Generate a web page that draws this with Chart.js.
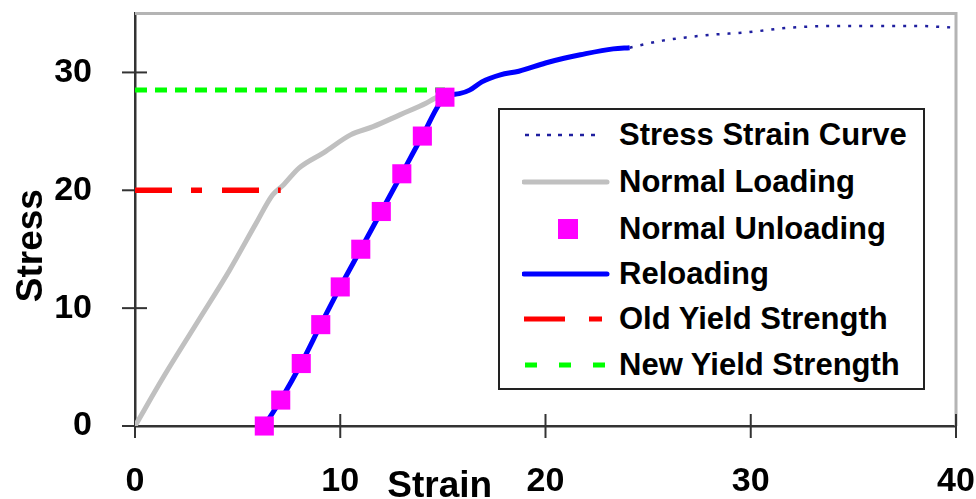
<!DOCTYPE html>
<html>
<head>
<meta charset="utf-8">
<script src="https://cdn.jsdelivr.net/npm/chart.js@4.4.0/dist/chart.umd.min.js"></script>
<style>
  html, body { margin: 0; padding: 0; background: #fff; }
  #wrap { position: relative; width: 976px; height: 499px; }
  #legend {
    position: absolute; left: 498px; top: 108px; width: 423px; height: 278px;
    border: 2px solid #222; background: #fff;
    font: bold 31px "Liberation Sans", Arial, sans-serif; color: #000;
  }
  .row { position: absolute; left: 0; height: 46px; line-height: 46px; width: 100%; }
  .row svg { position: absolute; left: 22px; top: 11px; }
  .row span { position: absolute; left: 119px; top: 0; white-space: nowrap; }
</style>
</head>
<body>
<div id="wrap">
  <canvas id="chart" width="976" height="499"></canvas>
  <div id="legend"></div>
</div>
<script>
// Stress strain data
const curveX = [24.1, 24.6, 25.7, 27.0, 28.1, 29.8, 31.9, 34.6, 37.9, 40];
const curveY = [32.1, 32.3, 32.7, 33.0, 33.2, 33.4, 33.8, 33.95, 33.95, 33.8];

const loadingX = [0, 1.4, 3.0, 4.6, 5.9, 6.7, 7.2, 8.0, 9.2, 10.5, 11.6, 12.9, 14.2, 14.6, 15.1];
const loadingY = [0, 4.2, 8.7, 13.2, 17.2, 19.6, 20.4, 21.9, 23.2, 24.7, 25.4, 26.4, 27.4, 27.8, 28.1];

const unloadX = [6.3, 7.1, 8.1, 9.05, 10.0, 11.0, 12.0, 13.0, 14.0, 15.1];
const unloadY = [0, 2.2, 5.3, 8.6, 11.8, 15.0, 18.2, 21.4, 24.6, 27.9];

const reloadX = [6.3, 7.1, 8.1, 9.05, 10.0, 11.0, 12.0, 13.0, 14.0, 15.1, 15.8, 16.3, 16.9, 17.8, 18.7, 20.0, 20.9, 21.7, 23.3, 24.1];
const reloadY = [0, 2.2, 5.3, 8.6, 11.8, 15.0, 18.2, 21.4, 24.6, 27.9, 28.2, 28.5, 29.2, 29.8, 30.1, 30.8, 31.2, 31.5, 32.0, 32.1];

const oldYieldX = [0, 7.1];
const oldYieldY = [20, 20];
const newYieldX = [0, 15.1];
const newYieldY = [28.5, 28.5];

const xTicks = [0, 10, 20, 30, 40];
const yTicks = [0, 10, 20, 30];

const FONT = '"Liberation Sans", Arial, sans-serif';

function pts(xs, ys) {
    return xs.map((x, i) => ({ x: x, y: ys[i] }));
}

// keep tick label padding from pushing the plot area in
function noPad(s) {
    s.paddingTop = 0;
    s.paddingBottom = 0;
    s.paddingLeft = 0;
    s.paddingRight = 0;
}

// frame, tick marks and axis titles
const frame = {
    id: 'frame',
    beforeDatasetsDraw(chart) {
        const { ctx, chartArea: a, scales: { x, y } } = chart;
        ctx.save();
        ctx.strokeStyle = '#b4b4b4';
        ctx.lineWidth = 3;
        ctx.beginPath();
        ctx.moveTo(a.left, a.top);
        ctx.lineTo(a.right, a.top);
        ctx.lineTo(a.right, a.bottom);
        ctx.stroke();

        ctx.strokeStyle = '#333';
        ctx.lineWidth = 2;
        yTicks.forEach(v => {
            const p = y.getPixelForValue(v);
            ctx.beginPath();
            ctx.moveTo(a.left - 13, p);
            ctx.lineTo(a.left + 12, p);
            ctx.stroke();
        });
        xTicks.forEach(v => {
            const p = x.getPixelForValue(v);
            ctx.beginPath();
            ctx.moveTo(p, a.bottom - 12);
            ctx.lineTo(p, a.bottom + 12);
            ctx.stroke();
        });

        ctx.fillStyle = '#000';
        ctx.font = 'bold 37px ' + FONT;
        ctx.textBaseline = 'alphabetic';
        ctx.textAlign = 'center';
        ctx.fillText('Strain', x.getPixelForValue(14.85), a.bottom + 71);

        ctx.translate(42, y.getPixelForValue(15.3));
        ctx.rotate(-Math.PI / 2);
        ctx.fillText('Stress', 0, 0);
        ctx.restore();
    }
};

new Chart(document.getElementById('chart'), {
    type: 'line',
    data: {
        datasets: [
            {
                label: 'Normal Unloading',
                data: pts(unloadX, unloadY),
                showLine: false,
                pointStyle: 'rect',
                pointRadius: 13.5,
                pointBackgroundColor: '#ff00ff',
                pointBorderWidth: 0,
                clip: false,
                order: 0
            },
            {
                label: 'Reloading',
                data: pts(reloadX, reloadY),
                borderColor: '#0000ff',
                borderWidth: 5,
                pointRadius: 0,
                cubicInterpolationMode: 'monotone',
                order: 1
            },
            {
                label: 'New Yield Strength',
                data: pts(newYieldX, newYieldY),
                borderColor: '#00ff00',
                borderWidth: 5,
                borderDash: [12, 8],
                pointRadius: 0,
                order: 2
            },
            {
                label: 'Old Yield Strength',
                data: pts(oldYieldX, oldYieldY),
                borderColor: '#ff0000',
                borderWidth: 5.5,
                borderDash: [37, 19, 11, 20],
                pointRadius: 0,
                order: 3
            },
            {
                label: 'Normal Loading',
                data: pts(loadingX, loadingY),
                borderColor: '#c0c0c0',
                borderWidth: 5,
                pointRadius: 0,
                cubicInterpolationMode: 'monotone',
                order: 4
            },
            {
                label: 'Stress Strain Curve',
                data: pts(curveX, curveY),
                borderColor: '#1f1f9f',
                borderWidth: 2.5,
                borderDash: [3, 8],
                pointRadius: 0,
                cubicInterpolationMode: 'monotone',
                order: 5
            }
        ]
    },
    options: {
        responsive: false,
        animation: false,
        devicePixelRatio: 1,
        layout: { padding: { top: 13, right: 20, left: 0, bottom: 0 } },
        plugins: { legend: { display: false }, tooltip: { enabled: false } },
        scales: {
            x: {
                type: 'linear',
                min: 0, max: 40,
                grid: { display: false },
                border: { display: true, color: '#333', width: 2.5 },
                ticks: {
                    stepSize: 10,
                    padding: 27,
                    color: '#000',
                    maxRotation: 0,
                    font: { family: FONT, size: 34, weight: 'bold' }
                },
                afterFit(s) { s.height = 73; noPad(s); }
            },
            y: {
                min: 0, max: 35,
                grid: { display: false },
                border: { display: true, color: '#333', width: 2.5 },
                ticks: {
                    stepSize: 10,
                    includeBounds: false,
                    padding: 35,
                    color: '#000',
                    font: { family: FONT, size: 34, weight: 'bold' }
                },
                afterFit(s) { s.width = 135; noPad(s); }
            }
        }
    },
    plugins: [frame]
});

// legend drawn as html so it sits inside the plot like the reference
const legendRows = [
    { label: 'Stress Strain Curve', svg: '<line x1="3" y1="12" x2="80" y2="12" stroke="#1f1f9f" stroke-width="2.5" stroke-dasharray="4 7"/>' },
    { label: 'Normal Loading', svg: '<line x1="2" y1="12" x2="85" y2="12" stroke="#c0c0c0" stroke-width="5" stroke-linecap="round"/>' },
    { label: 'Normal Unloading', svg: '<rect x="36" y="2" width="20" height="20" fill="#ff00ff"/>' },
    { label: 'Reloading', svg: '<line x1="2" y1="12" x2="85" y2="12" stroke="#0000ff" stroke-width="5" stroke-linecap="round"/>' },
    { label: 'Old Yield Strength', svg: '<line x1="2" y1="12" x2="80" y2="12" stroke="#ff0000" stroke-width="5" stroke-dasharray="41 24 13 100"/>' },
    { label: 'New Yield Strength', svg: '<line x1="3" y1="12" x2="85" y2="12" stroke="#00ff00" stroke-width="5" stroke-dasharray="12 22"/>' }
];
const rowTops = [2, 49, 96, 141, 186, 232];
const legend = document.getElementById('legend');
legendRows.forEach((r, i) => {
    const row = document.createElement('div');
    row.className = 'row';
    row.style.top = rowTops[i] + 'px';
    row.innerHTML = '<svg width="90" height="24">' + r.svg + '</svg><span>' + r.label + '</span>';
    legend.appendChild(row);
});
</script>
</body>
</html>
